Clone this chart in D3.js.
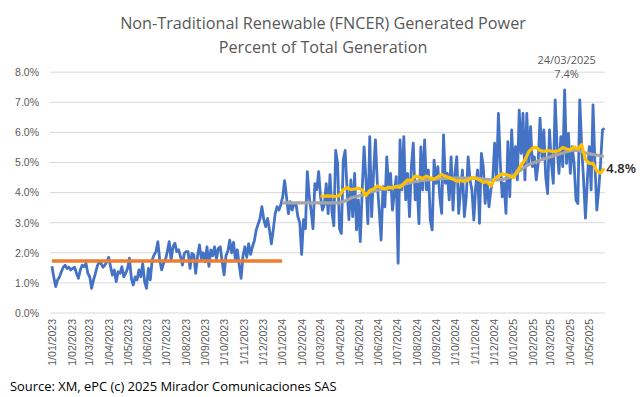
<!doctype html>
<html lang="en">
<head>
<meta charset="utf-8">
<title>FNCER Generated Power</title>
<script src="https://d3js.org/d3.v7.min.js"></script>
<style>
  body { margin: 0; background: #fff; }
  svg { display: block; font-family: "Open Sans", sans-serif; }
  .grid line { stroke: #d9d9d9; stroke-width: 1; }
  .tick-label { fill: #595959; font-size: 10.5px; }
  .series { fill: none; stroke-linejoin: round; }
</style>
</head>
<body>
<svg width="643" height="397"></svg>
<script>
// daily share read every 3 days from 1/01/2023
var blueStart = "2023-01-01", blueStepDays = 3;
var blueValues = [
  1.55, 1.2, 0.88, 1.1, 1.2, 1.37, 1.52, 1.59, 1.48, 1.52, 1.43, 1.48, 1.52, 1.32, 1.15, 1.43, 1.59, 1.54, 1.65, 1.32,
  1.2, 0.82, 1.1, 1.32, 1.56, 1.7, 1.65, 1.52, 1.59, 1.7, 1.85, 1.54, 1.26, 1.43, 1.04, 1.37, 1.32, 1.54, 1.2, 1.32,
  1.48, 1.82, 1.15, 0.93, 1.2, 1.1, 1.43, 1.2, 1.65, 1.04, 0.82, 1.48, 1.1, 1.76, 1.93, 2.04, 2.37, 1.76, 1.43, 1.65,
  1.76, 2.04, 2.37, 1.76, 2.2, 2.32, 2.04, 2.1, 1.87, 1.59, 1.98, 2.04, 2.04, 1.48, 1.98, 1.93, 1.32, 1.9, 2.26, 1.8,
  2.0, 1.7, 2.2, 1.55, 2.1, 1.9, 2.2, 1.8, 2.15, 2.2, 1.7, 1.27, 1.9, 2.05, 2.42, 2.0, 2.35, 1.75, 2.1, 1.6,
  1.15, 1.9, 2.2, 1.85, 2.3, 1.95, 2.2, 2.4, 2.76, 2.95, 3.14, 3.53, 3.1, 2.87, 3.14, 2.76, 2.3, 2.76, 3.3, 3.53,
  3.42, 3.6, 3.86, 4.4, 3.86, 3.3, 3.7, 3.42, 3.64, 3.64, 3.2, 3.0, 1.95, 3.1, 2.8, 4.7, 3.86, 3.4, 2.8, 4.3,
  4.1, 4.7, 3.86, 3.42, 3.6, 4.3, 3.3, 4.6, 3.37, 2.9, 5.4, 4.97, 2.8, 2.64, 5.08, 5.4, 4.09, 3.1, 4.42, 3.2,
  4.64, 2.76, 3.76, 2.37, 4.09, 5.52, 4.42, 2.97, 5.86, 3.2, 4.64, 5.75, 4.31, 3.42, 2.42, 4.2, 3.53, 5.19, 4.09, 4.64,
  3.42, 3.98, 4.53, 1.65, 5.75, 4.09, 5.86, 3.76, 4.64, 3.2, 4.86, 5.64, 3.76, 4.31, 2.97, 5.52, 4.09, 5.75, 4.09, 4.75,
  3.09, 2.76, 5.08, 4.31, 4.86, 3.87, 3.31, 5.92, 4.31, 4.64, 3.76, 5.19, 3.42, 4.64, 5.19, 3.31, 4.09, 4.75, 3.2, 3.86,
  5.19, 4.42, 4.09, 3.09, 4.2, 4.75, 2.98, 5.3, 4.86, 3.64, 4.42, 3.53, 4.09, 4.42, 5.64, 4.42, 6.63, 4.97, 3.86, 4.31,
  3.31, 5.69, 3.86, 6.08, 4.64, 5.53, 4.42, 6.74, 5.3, 6.63, 4.42, 6.63, 4.97, 6.19, 4.86, 5.19, 4.42, 4.97, 6.47, 5.19,
  6.08, 4.53, 3.97, 6.08, 4.97, 4.31, 7.08, 5.53, 4.64, 5.86, 4.86, 7.41, 4.97, 5.97, 4.64, 5.53, 4.97, 3.75, 3.64, 7.08,
  5.53, 4.42, 3.15, 4.42, 5.53, 4.09, 6.91, 4.97, 3.42, 4.09, 4.97, 6.08, 6.14
];

// 2023 average
var orangeDates = ["2023-01-01", "2024-01-01"];
var orangeValues = [1.73, 1.73];

// long moving average, read every 10 days
var greyStart = "2024-01-01", greyStepDays = 10;
var greyValues = [
  3.66, 3.66, 3.66, 3.66, 3.66, 3.66, 3.66, 3.66, 3.66, 3.66, 3.72, 3.83, 3.88, 3.94, 4.02, 4.07, 4.12, 4.16, 4.2, 4.25,
  4.31, 4.36, 4.4, 4.42, 4.44, 4.46, 4.47, 4.48, 4.48, 4.48, 4.48, 4.48, 4.45, 4.42, 4.42, 4.44, 4.5, 4.62, 4.78, 4.92,
  5.0, 5.08, 5.15, 5.22, 5.28, 5.35, 5.41, 5.4, 5.32, 5.28, 5.24, 5.2
];

// short moving average, read every 6 days
var yellowStart = "2024-03-02", yellowStepDays = 6;
var yellowValues = [
  3.88, 3.88, 3.89, 3.88, 3.87, 3.9, 4.1, 4.16, 4.1, 4.12, 4.15, 4.09, 3.9, 4.07, 4.12, 4.22, 4.18, 4.12, 4.18, 4.15,
  4.2, 4.17, 4.3, 4.42, 4.4, 4.55, 4.52, 4.47, 4.55, 4.48, 4.45, 4.52, 4.6, 4.54, 4.5, 4.44, 4.38, 4.4, 4.37, 4.42,
  4.5, 4.48, 4.42, 4.34, 4.36, 4.22, 4.45, 4.55, 4.62, 4.6, 4.56, 4.5, 4.7, 4.92, 5.08, 5.35, 5.48, 5.5, 5.4, 5.37,
  5.4, 5.38, 5.36, 5.4, 5.5, 5.45, 5.42, 5.52, 5.45, 5.6, 5.1, 4.97, 4.97, 4.72, 4.65, 4.8
];

var yTicks = [0, 1, 2, 3, 4, 5, 6, 7, 8];
var titleLines = ["Non-Traditional Renewable (FNCER) Generated Power", "Percent of Total Generation"];
var peakDate = "24/03/2025", peakValue = 7.4;
var endLabel = "4.8%";
var sourceText = "Source: XM, ePC (c) 2025 Mirador Comunicaciones SAS";

var parse = d3.timeParse("%Y-%m-%d");
var fmtTick = d3.timeFormat("%-d/%m/%Y");

function stepped(start, step, values) {
  var t0 = parse(start);
  return values.map(function (v, i) { return { date: d3.timeDay.offset(t0, i * step), value: v }; });
}

var blue = stepped(blueStart, blueStepDays, blueValues);
var grey = stepped(greyStart, greyStepDays, greyValues);
var yellow = stepped(yellowStart, yellowStepDays, yellowValues);
var orange = orangeDates.map(function (d, i) { return { date: parse(d), value: orangeValues[i] }; });

var svg = d3.select("svg");
svg.append("rect").attr("width", 643).attr("height", 397).attr("fill", "#fff");

var x = d3.scaleTime()
  .domain([parse("2022-12-29"), parse("2025-05-27")])
  .range([50, 605]);
var y = d3.scaleLinear().domain([0, 8]).range([313, 72.2]);

// gridlines
svg.append("g").attr("class", "grid")
  .selectAll("line").data(yTicks).enter().append("line")
  .attr("x1", x.range()[0]).attr("x2", x.range()[1])
  .attr("y1", function (d) { return y(d); }).attr("y2", function (d) { return y(d); });

// y axis labels
var yAxis = d3.axisLeft(y).tickValues(yTicks).tickSize(0).tickPadding(0)
  .tickFormat(function (d) { return d.toFixed(1) + "%"; });
svg.append("g").attr("transform", "translate(39,0)").call(yAxis)
  .call(function (g) { g.select(".domain").remove(); })
  .selectAll("text").attr("class", "tick-label").attr("font-family", null).attr("font-size", null);

// x axis labels (months)
var months = d3.timeMonth.range(parse("2023-01-01"), parse("2025-05-02"));
var xAxis = d3.axisBottom(x).tickValues(months).tickSize(0).tickFormat(fmtTick);
svg.append("g").attr("transform", "translate(0,313)").call(xAxis)
  .call(function (g) { g.select(".domain").remove(); })
  .selectAll("text")
  .attr("class", "tick-label").attr("font-family", null).attr("font-size", null)
  .attr("y", 0).attr("dy", "0.35em")
  .attr("transform", "rotate(-90) translate(-6,0)")
  .attr("x", 0)
  .style("text-anchor", "end");

var line = d3.line()
  .x(function (d) { return x(d.date); })
  .y(function (d) { return y(d.value); });

svg.append("path").datum(blue).attr("class", "series")
  .attr("stroke", "#4472c4").attr("stroke-width", 2.8).attr("d", line);
svg.append("path").datum(orange).attr("class", "series")
  .attr("stroke", "#ed7d31").attr("stroke-width", 3.5).attr("d", line);
svg.append("path").datum(grey).attr("class", "series")
  .attr("stroke", "#a5a5a5").attr("stroke-width", 3.2).attr("d", line);
svg.append("path").datum(yellow).attr("class", "series")
  .attr("stroke", "#ffc000").attr("stroke-width", 3.2).attr("d", line);

// peak annotation
var peak = blue.reduce(function (a, b) { return b.value > a.value ? b : a; });
var ann = svg.append("g").attr("fill", "#595959").attr("font-size", 11).attr("text-anchor", "middle");
ann.append("text").attr("x", x(peak.date) + 2).attr("y", y(peak.value) - 26).text(peakDate);
ann.append("text").attr("x", x(peak.date) + 2).attr("y", y(peak.value) - 12).text(peakValue.toFixed(1) + "%");

// end label
var last = yellow[yellow.length - 1];
svg.append("text").attr("x", x(last.date) + 2).attr("y", y(last.value)).attr("dy", "0.35em")
  .attr("fill", "#262626").attr("font-size", 13).attr("font-weight", 600).text(endLabel);

// title
function fit(sel, width) {
  var w = sel.node().getComputedTextLength();
  var fs = parseFloat(sel.attr("font-size"));
  return fs * width / w;
}
var title = svg.append("g").attr("fill", "#595959").attr("text-anchor", "middle");
var t1 = title.append("text").attr("x", 323).attr("y", 29).attr("font-size", 17).text(titleLines[0]);
var tfs = fit(t1, 406);
t1.attr("font-size", tfs);
title.append("text").attr("x", 323).attr("y", 53).attr("font-size", tfs).text(titleLines[1]);

// source
var src = svg.append("text").attr("x", 10).attr("y", 391).attr("fill", "#000")
  .attr("font-size", 13).text(sourceText);
src.attr("font-size", fit(src, 327));
</script>
</body>
</html>
